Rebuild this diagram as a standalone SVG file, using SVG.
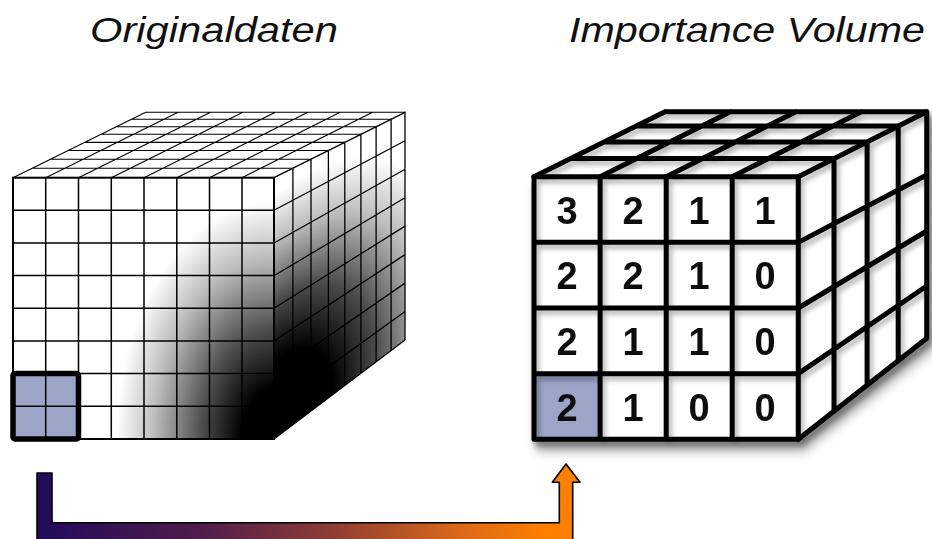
<svg xmlns="http://www.w3.org/2000/svg" width="932" height="539" viewBox="0 0 932 539">
<style>
.title{font-family:"Liberation Sans",Arial,sans-serif;font-style:italic;font-size:35px;fill:#111}
.num{font-family:"Liberation Sans",Arial,sans-serif;font-weight:bold;font-size:38px;fill:#111;text-anchor:middle}
.thin{fill:none;stroke:#000;stroke-width:1.5}
.top{fill:none;stroke:#000;stroke-width:1.1}
.side{fill:none;stroke:#000;stroke-width:1.3}
.thick{fill:none;stroke:#000;stroke-width:5;stroke-linejoin:round;stroke-linecap:round}
</style>
<defs>
<radialGradient id="gFront" gradientUnits="userSpaceOnUse" cx="0" cy="0" r="1" gradientTransform="translate(274 439) scale(158 238)">
<stop offset="0" stop-color="#000"/>
<stop offset="0.21" stop-color="#000"/>
<stop offset="0.46" stop-color="#4e4e4e"/>
<stop offset="0.76" stop-color="#bcbcbc"/>
<stop offset="1" stop-color="#fff"/>
</radialGradient>
<radialGradient id="gSide" gradientUnits="userSpaceOnUse" cx="0" cy="0" r="1" gradientTransform="translate(274 439) skewY(-37) scale(185 245)">
<stop offset="0" stop-color="#000"/>
<stop offset="0.32" stop-color="#000"/>
<stop offset="0.55" stop-color="#4a4a4a"/>
<stop offset="0.8" stop-color="#bcbcbc"/>
<stop offset="1" stop-color="#fff"/>
</radialGradient>
<linearGradient id="gArrow" gradientUnits="userSpaceOnUse" x1="37" y1="0" x2="573" y2="0">
<stop offset="0" stop-color="#220a5c"/>
<stop offset="0.3" stop-color="#4f1c4c"/>
<stop offset="0.55" stop-color="#8e3d35"/>
<stop offset="0.8" stop-color="#dd6a18"/>
<stop offset="0.95" stop-color="#ff7f00"/>
<stop offset="1" stop-color="#ff8000"/>
</linearGradient>
<filter id="shBig" x="-10%" y="-10%" width="125%" height="130%">
<feGaussianBlur in="SourceAlpha" stdDeviation="5"/>
<feOffset dx="4" dy="8" result="b"/>
<feComponentTransfer><feFuncA type="linear" slope="0.4"/></feComponentTransfer>
<feMerge><feMergeNode/><feMergeNode in="SourceGraphic"/></feMerge>
</filter>
<filter id="shSmall" x="-10%" y="-10%" width="125%" height="130%">
<feGaussianBlur in="SourceAlpha" stdDeviation="2.5"/>
<feOffset dx="3" dy="4" result="b"/>
<feComponentTransfer><feFuncA type="linear" slope="0.3"/></feComponentTransfer>
<feMerge><feMergeNode/><feMergeNode in="SourceGraphic"/></feMerge>
</filter>
</defs>
<rect width="932" height="539" fill="#fff"/>

<g id="title-original"><text class="title" x="90" y="42" textLength="248" lengthAdjust="spacingAndGlyphs">Originaldaten</text></g>
<g id="title-importance"><text class="title" x="569" y="42" textLength="356" lengthAdjust="spacingAndGlyphs">Importance Volume</text></g>

<g id="cube-original">
<polygon points="13,177.7 274,177.7 405,112.3 145.7,112.3" fill="#fff"/>
<rect x="13" y="177.7" width="261" height="261.3" fill="url(#gFront)"/>
<polygon points="274,177.7 405,112.3 405,340 274,439" fill="url(#gSide)"/>
<rect x="13" y="373.6" width="65.5" height="65.4" fill="#9ca4c8"/>
<path class="top" d="M32.1,168.3H292.9M50.5,159.2H311M68.1,150.5H328.4M84.7,142.4H344.8M101,134.3H360.9M116.4,126.7H376.1M131.6,119.2H391.1M145.7,112.3H405M13,177.7L145.7,112.3M45.7,177.7L178.1,112.3M78.5,177.7L210.5,112.3M111.3,177.7L242.9,112.3M144,177.7L275.4,112.3M176.8,177.7L307.8,112.3M209.5,177.7L340.2,112.3M242,177.7L372.6,112.3"/>
<path class="side" d="M292.9,168.3V424.7M311,159.2V411M328.4,150.5V397.9M344.8,142.4V385.5M360.9,134.3V373.3M376.1,126.7V361.8M391.1,119.2V350.5M274,210.3L405,140.8M274,243L405,169.2M274,275.7L405,197.7M274,308.3L405,226.1M274,341L405,254.6M274,373.7L405,283.1M274,406.3L405,311.5M274,439L405,340M274,177.7L405,112.3V340"/>
<path class="thin" d="M45.7,177.7V439M78.5,177.7V439M111.3,177.7V439M144,177.7V439M176.8,177.7V439M209.5,177.7V439M242,177.7V439M13,210.3H274M13,243H274M13,275.6H274M13,308.3H274M13,341H274M13,373.6H274M13,406.3H274"/>
<rect x="13" y="177.7" width="261" height="261.3" fill="none" stroke="#000" stroke-width="2"/>
<rect x="13" y="373.6" width="65.5" height="65.4" rx="2" fill="none" stroke="#000" stroke-width="5.5" stroke-linejoin="round"/>
</g>

<g id="cube-importance" filter="url(#shBig)">
<polygon points="534,176.7 798.3,176.7 926.7,111.7 665,111.7" fill="#fff"/>
<polygon points="798.3,176.7 926.7,111.7 926.7,338.3 798.3,439.3" fill="#fff"/>
<rect x="534" y="176.7" width="264.3" height="262.6" fill="#fff"/>
<rect x="534" y="373.65" width="66.1" height="65.65" fill="#9ca4c8"/>
<g filter="url(#shSmall)">
<path class="thick" d="M570.4,158.6H834M604.2,141.9H867.1M635.9,126.1H898.2M665,111.7H926.7M534,176.7L665,111.7M600.1,176.7L730.4,111.7M666.2,176.7L795.9,111.7M732.2,176.7L861.3,111.7"/>
<path class="thick" d="M834,158.6V411.2M867.1,141.9V385.2M898.2,126.1V360.7M798.3,242.35L926.7,175M798.3,308L926.7,231M798.3,373.65L926.7,286M798.3,439.3L926.7,338.3V111.7L798.3,176.7"/>
<path class="thick" d="M534,176.7H798.3V439.3H534ZM600.1,176.7V439.3M666.2,176.7V439.3M732.2,176.7V439.3M534,242.35H798.3M534,308H798.3M534,373.65H798.3"/>
</g>
<text class="num" x="567" y="223.5">3</text>
<text class="num" x="633" y="223.5">2</text>
<text class="num" x="699" y="223.5">1</text>
<text class="num" x="765" y="223.5">1</text>
<text class="num" x="567" y="289.2">2</text>
<text class="num" x="633" y="289.2">2</text>
<text class="num" x="699" y="289.2">1</text>
<text class="num" x="765" y="289.2">0</text>
<text class="num" x="567" y="354.8">2</text>
<text class="num" x="633" y="354.8">1</text>
<text class="num" x="699" y="354.8">1</text>
<text class="num" x="765" y="354.8">0</text>
<text class="num" x="567" y="420.5">2</text>
<text class="num" x="633" y="420.5">1</text>
<text class="num" x="699" y="420.5">0</text>
<text class="num" x="765" y="420.5">0</text>
</g>

<g id="connectors">
<path d="M37,473H52V522.7H559.3V482.3H552.3L566,464L580,482.3H572.7V548H37Z" fill="url(#gArrow)" stroke="#000" stroke-width="1.6" stroke-linejoin="round"/>
</g>
</svg>
